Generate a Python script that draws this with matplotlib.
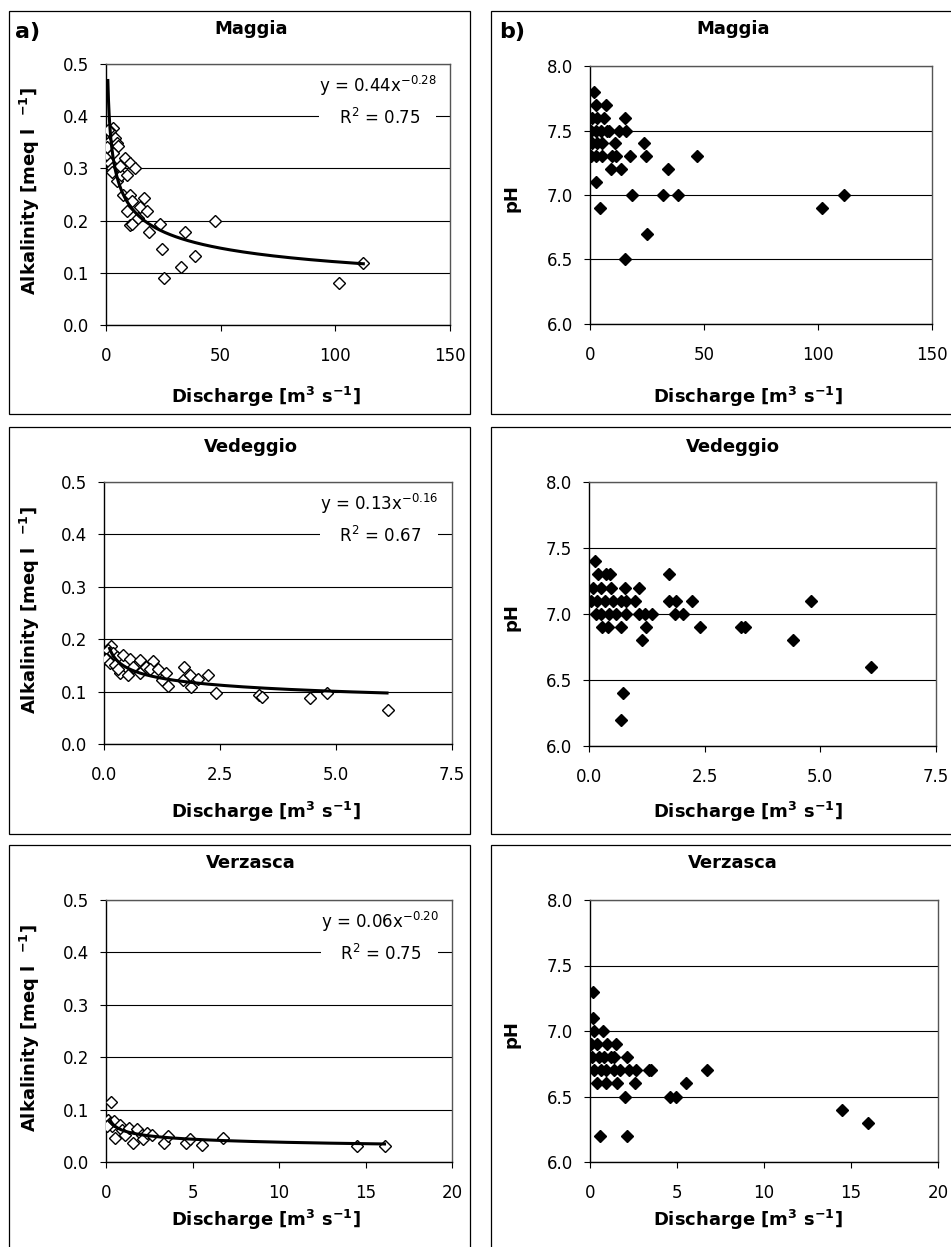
import matplotlib
matplotlib.use('Agg')
import matplotlib.pyplot as plt
import numpy as np
from matplotlib.patches import Rectangle

plt.rcParams['font.family'] = ['DejaVu Sans']
plt.rcParams['mathtext.fontset'] = 'dejavusans'

# ---------------- data ----------------
maggia_q_alk = [3.2, 1.7, 1.0, 0.3, 1.0, 1.7, 2.5, 3.9, 4.6, 5.4, 3.0, 0.9, 0.4, 2.6,
                4.6, 6.4, 6.1, 8.3, 9.0, 10.5, 12.6, 7.3, 10.5, 11.2, 9.0, 10.5,
                11.2, 14.8, 16.6, 17.7, 14.0, 18.8, 23.5, 24.6, 25.3, 32.7, 34.6,
                38.8, 47.7, 101.7, 112.2]
maggia_alk = [0.377, 0.371, 0.348, 0.336, 0.323, 0.310, 0.300, 0.358, 0.348, 0.342,
              0.330, 0.374, 0.341, 0.293, 0.275, 0.288, 0.304, 0.320, 0.288, 0.310,
              0.300, 0.249, 0.249, 0.237, 0.219, 0.192, 0.194, 0.227, 0.244, 0.219,
              0.205, 0.178, 0.193, 0.145, 0.090, 0.111, 0.179, 0.132, 0.200, 0.081,
              0.118]
maggia_q_ph = [1.8, 2.5, 6.9, 1.0, 3.2, 6.1, 15.4, 0.3, 2.5, 4.7, 7.6, 8.3, 12.7, 15.7,
               1.0, 3.2, 5.4, 11.0, 23.7, 0.3, 2.5, 5.1, 9.5, 11.3, 17.4, 24.4, 47.1,
               9.1, 13.5, 34.4, 2.5, 18.6, 32.0, 38.6, 111.5, 4.2, 101.6, 25.2, 15.4]
maggia_ph = [7.8, 7.7, 7.7, 7.6, 7.6, 7.6, 7.6, 7.5, 7.5, 7.5, 7.5, 7.5, 7.5, 7.5,
             7.4, 7.4, 7.4, 7.4, 7.4, 7.3, 7.3, 7.3, 7.3, 7.3, 7.3, 7.3, 7.3,
             7.2, 7.2, 7.2, 7.1, 7.0, 7.0, 7.0, 7.0, 6.9, 6.9, 6.7, 6.5]

vedeggio_q_alk = [0.16, 0.09, 0.05, 0.19, 0.27, 0.12, 0.23, 0.34, 0.30, 0.41, 0.55, 0.52,
                  0.63, 0.77, 0.77, 0.91, 1.06, 0.99, 1.17, 1.24, 1.33, 1.38, 1.73,
                  1.71, 1.86, 1.87, 2.03, 2.25, 2.41, 3.33, 3.40, 4.43, 4.80, 6.12]
vedeggio_alk = [0.187, 0.179, 0.163, 0.173, 0.166, 0.154, 0.151, 0.135, 0.144, 0.170,
                0.163, 0.132, 0.147, 0.161, 0.135, 0.147, 0.159, 0.144, 0.144, 0.122,
                0.135, 0.111, 0.146, 0.122, 0.132, 0.109, 0.125, 0.132, 0.098, 0.093,
                0.090, 0.087, 0.098, 0.065]
vedeggio_q_ph = [0.14, 0.19, 0.37, 0.46, 1.73, 0.09, 0.27, 0.48, 0.78, 1.07, 0.05, 0.17,
                 0.34, 0.52, 0.70, 0.79, 0.99, 1.73, 1.87, 2.23, 4.79, 0.16, 0.27, 0.43,
                 0.59, 0.81, 1.09, 1.20, 1.37, 1.86, 2.03, 0.29, 0.41, 0.70, 1.24, 2.40,
                 3.29, 3.38, 1.15, 4.42, 6.10, 0.73, 0.70]
vedeggio_ph = [7.4, 7.3, 7.3, 7.3, 7.3, 7.2, 7.2, 7.2, 7.2, 7.2, 7.1, 7.1, 7.1, 7.1,
               7.1, 7.1, 7.1, 7.1, 7.1, 7.1, 7.1, 7.0, 7.0, 7.0, 7.0, 7.0, 7.0, 7.0,
               7.0, 7.0, 7.0, 6.9, 6.9, 6.9, 6.9, 6.9, 6.9, 6.9, 6.8, 6.8, 6.6, 6.4,
               6.2]

verzasca_q_alk = [0.27, 0.13, 0.23, 0.33, 0.04, 0.46, 0.52, 0.81, 0.91, 1.10, 1.35, 1.54,
                  1.77, 2.06, 2.16, 2.35, 2.64, 3.38, 3.57, 4.63, 4.86, 5.54, 6.79,
                  14.5, 16.1]
verzasca_alk = [0.114, 0.081, 0.074, 0.068, 0.068, 0.078, 0.046, 0.071, 0.062, 0.052,
                0.065, 0.036, 0.063, 0.052, 0.043, 0.055, 0.052, 0.036, 0.050, 0.036,
                0.043, 0.033, 0.046, 0.030, 0.030]
verzasca_q_ph = [0.17, 0.17, 0.23, 0.77, 0.04, 0.42, 1.00, 1.48, 0.10, 0.52, 0.80, 1.19,
                 1.38, 2.15, 0.23, 0.61, 0.90, 1.38, 1.72, 2.24, 2.66, 3.39, 3.52, 6.70,
                 0.42, 0.90, 1.53, 2.57, 5.50, 1.99, 4.58, 4.96, 14.5, 16.0, 0.56, 2.11]
verzasca_ph = [7.3, 7.1, 7.0, 7.0, 6.9, 6.9, 6.9, 6.9, 6.8, 6.8, 6.8, 6.8, 6.8, 6.8,
               6.7, 6.7, 6.7, 6.7, 6.7, 6.7, 6.7, 6.7, 6.7, 6.7, 6.6, 6.6, 6.6, 6.6,
               6.6, 6.5, 6.5, 6.5, 6.4, 6.3, 6.2, 6.2]

# power-law trend lines: (coefficient, exponent, x_min, x_max)
maggia_fit = (0.44, -0.28, 0.8, 112.2)
vedeggio_fit = (0.13, -0.16, 0.12, 6.1)
verzasca_fit = (0.06, -0.20, 0.25, 16.1)
maggia_eq = ("y = 0.44x$^{-0.28}$", "R$^{2}$ = 0.75")
vedeggio_eq = ("y = 0.13x$^{-0.16}$", "R$^{2}$ = 0.67")
verzasca_eq = ("y = 0.06x$^{-0.20}$", "R$^{2}$ = 0.75")

rivers = ["Maggia", "Vedeggio", "Verzasca"]
x_ticks = [[0, 50, 100, 150], [0.0, 2.5, 5.0, 7.5], [0, 5, 10, 15, 20]]
x_fmt = ["{:.0f}", "{:.1f}", "{:.0f}"]
alk_ticks = [0.0, 0.1, 0.2, 0.3, 0.4, 0.5]
ph_ticks = [6.0, 6.5, 7.0, 7.5, 8.0]

# ---------------- layout ----------------
W, H = 951, 1247
fig = plt.figure(figsize=(W / 100, H / 100), dpi=100)


def px_axes(x0, y0, x1, y1):
    return fig.add_axes([x0 / W, 1 - y1 / H, (x1 - x0) / W, (y1 - y0) / H])


def ftext(x, y, s, **kw):
    fig.text(x / W, 1 - y / H, s, **kw)


# panel frames
frames = [(9, 11, 470, 414), (491, 11, 960, 414),
          (9, 427, 470, 834), (491, 427, 960, 834),
          (9, 845, 470, 1260), (491, 845, 960, 1260)]
for x0, y0, x1, y1 in frames:
    fig.patches.append(Rectangle((x0 / W, 1 - y1 / H), (x1 - x0) / W, (y1 - y0) / H,
                                 transform=fig.transFigure, fill=False,
                                 edgecolor='black', lw=0.9))

left_boxes = [(106, 64, 450, 325), (104, 482, 452, 744), (106, 900, 452, 1162)]
right_boxes = [(590, 66, 932, 324), (589, 482, 936, 746), (590, 900, 938, 1162)]
title_y = [29, 447, 863]
xlabel_y = [397, 812, 1220]
left_title_x, right_title_x = 251, 733
left_xlabel_x, right_xlabel_x = 266, 748

alk_x = [maggia_q_alk, vedeggio_q_alk, verzasca_q_alk]
alk_y = [maggia_alk, vedeggio_alk, verzasca_alk]
ph_x = [maggia_q_ph, vedeggio_q_ph, verzasca_q_ph]
ph_y = [maggia_ph, vedeggio_ph, verzasca_ph]
fits = [maggia_fit, vedeggio_fit, verzasca_fit]
eqs = [maggia_eq, vedeggio_eq, verzasca_eq]

TICK_FS = 12
LABEL_FS = 13
xlabel_txt = r"Discharge [m$^{\mathbf{3}}$ s$^{\mathbf{-1}}$]"
alk_label = r"Alkalinity [meq l  $^{\mathbf{-1}}$]"


def style(ax, xt, fmt, yt, yfmt):
    ax.set_xlim(xt[0], xt[-1])
    ax.set_ylim(yt[0], yt[-1])
    ax.set_xticks(xt)
    ax.set_xticklabels([fmt.format(v) for v in xt])
    ax.set_yticks(yt)
    ax.set_yticklabels([yfmt.format(v) for v in yt])
    ax.yaxis.grid(True, color='black', lw=0.8)
    ax.set_axisbelow(True)
    for s in ['left', 'bottom']:
        ax.spines[s].set_color('black')
        ax.spines[s].set_linewidth(1.0)
    for s in ['top', 'right']:
        ax.spines[s].set_color('#555555')
        ax.spines[s].set_linewidth(1.0)
    ax.tick_params(axis='both', direction='out', length=4, width=0.8,
                   labelsize=TICK_FS, colors='black')
    ax.tick_params(axis='x', pad=12)
    ax.tick_params(axis='y', pad=8)


for i in range(3):
    # ---------- alkalinity (left column) ----------
    ax = px_axes(*left_boxes[i])
    style(ax, x_ticks[i], x_fmt[i], alk_ticks, "{:.1f}")
    ax.plot(alk_x[i], alk_y[i], linestyle='none', marker='D', ms=6.2,
            mfc='white', mec='black', mew=1.0, zorder=3)
    a, b, x0, x1 = fits[i]
    xs = np.geomspace(x0, x1, 300)
    ax.plot(xs, a * xs ** b, color='black', lw=2.2, zorder=4)
    bx = dict(facecolor='white', edgecolor='none', pad=3)
    ax.text(0.79, 0.915, eqs[i][0], transform=ax.transAxes, ha='center', va='center',
            fontsize=12, bbox=bx, zorder=5)
    ax.text(0.79, 0.795, "   " + eqs[i][1] + "   ", transform=ax.transAxes,
            ha='center', va='center', fontsize=12, bbox=bx, zorder=5)
    bx0, by0, bx1, by1 = left_boxes[i]
    ftext(30, (by0 + by1) / 2 - 3, alk_label, rotation=90, ha='center', va='center',
          fontsize=LABEL_FS, fontweight='bold')
    ftext(left_xlabel_x, xlabel_y[i], xlabel_txt, ha='center', va='center',
          fontsize=LABEL_FS, fontweight='bold')
    ftext(left_title_x, title_y[i], rivers[i], ha='center', va='center',
          fontsize=LABEL_FS, fontweight='bold')

    # ---------- pH (right column) ----------
    ax = px_axes(*right_boxes[i])
    style(ax, x_ticks[i], x_fmt[i], ph_ticks, "{:.1f}")
    ax.plot(ph_x[i], ph_y[i], linestyle='none', marker='D', ms=6.2,
            mfc='black', mec='black', mew=1.0, zorder=3)
    bx0, by0, bx1, by1 = right_boxes[i]
    ftext(512, (by0 + by1) / 2 + 3, "pH", rotation=90, ha='center', va='center',
          fontsize=LABEL_FS, fontweight='bold')
    ftext(right_xlabel_x, xlabel_y[i], xlabel_txt, ha='center', va='center',
          fontsize=LABEL_FS, fontweight='bold')
    ftext(right_title_x, title_y[i], rivers[i], ha='center', va='center',
          fontsize=LABEL_FS, fontweight='bold')

ftext(15, 32, "a)", ha='left', va='center', fontsize=16, fontweight='bold')
ftext(499, 32, "b)", ha='left', va='center', fontsize=16, fontweight='bold')

fig.savefig("out.png", dpi=100)
